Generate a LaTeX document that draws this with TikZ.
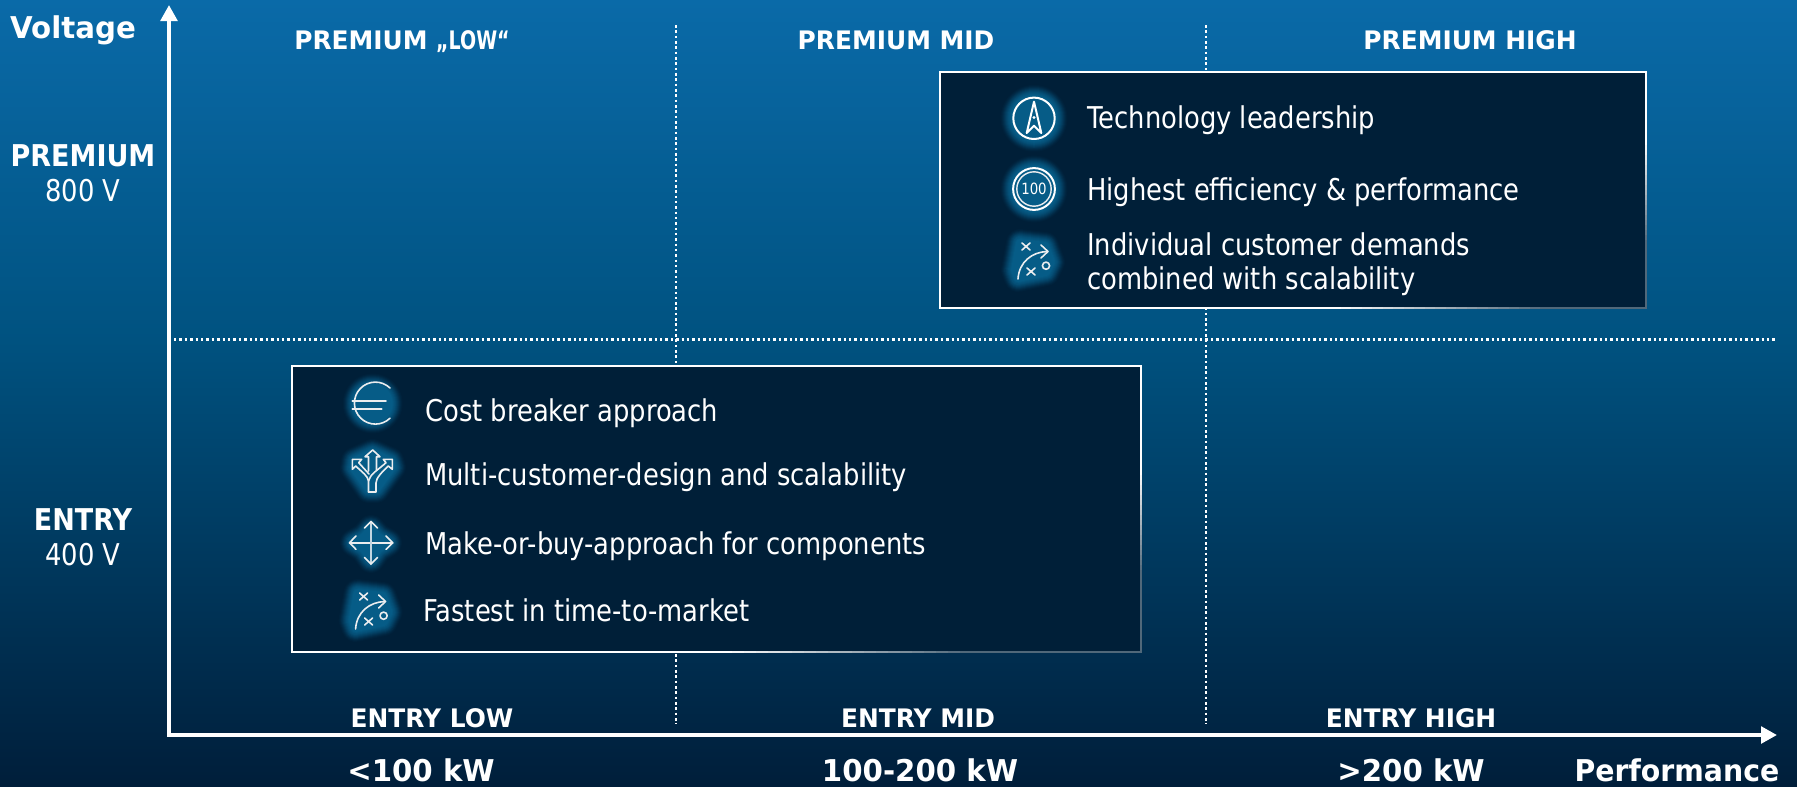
\documentclass[tikz,border=0pt]{standalone}
\usepackage{fontspec}
\setmainfont{DejaVu Sans}[FakeStretch=0.86]
\newfontfamily\bfa{DejaVu Sans Bold}[FakeStretch=0.975]
\newfontfamily\bfb{DejaVu Sans Bold}[FakeStretch=0.9]
\newfontfamily\bfc{DejaVu Sans Bold}[FakeStretch=0.945]
\newfontfamily\bfd{DejaVu Sans Bold}[FakeStretch=0.745]
\usetikzlibrary{arrows.meta}
\definecolor{bgtop}{RGB}{10,106,168}
\definecolor{bgmid}{RGB}{0,82,128}
\definecolor{bgbot}{RGB}{0,30,58}
\definecolor{boxc}{RGB}{0,31,56}
\definecolor{glowc}{RGB}{6,92,135}
\definecolor{edgegray}{RGB}{80,104,122}
\newcommand{\glowp}[1]{\foreach \w/\p in {28/5,26/12,24/22,22/33,20/45,18/57,16/68,14/78,12/86,10/93,8/100}{\path[draw=glowc!\p!boxc,fill=glowc!\p!boxc,line width=\w pt,line join=round,line cap=round] #1;}}
\newcommand{\tsz}[1]{\fontsize{#1}{#1}\selectfont}
% fading edge pieces: \hfade{x0}{x1}{y}  \vfade{x}{y0}{y1}
\newcommand{\hfade}[3]{\foreach \i in {0,5,...,95}{\pgfmathsetmacro{\pa}{#1+(#2-#1)*(\i/100)}\pgfmathsetmacro{\pb}{#1+(#2-#1)*((\i+5.5)/100)}\pgfmathtruncatemacro{\q}{100-\i}\fill[white!\q!edgegray] (\pa,#3-1) rectangle (\pb,#3+1);}}
\newcommand{\vfade}[3]{\foreach \i in {0,5,...,95}{\pgfmathsetmacro{\pa}{#2+(#3-#2)*(\i/100)}\pgfmathsetmacro{\pb}{#2+(#3-#2)*((\i+5.5)/100)}\pgfmathtruncatemacro{\q}{100-\i}\fill[white!\q!edgegray] (#1-1,\pa) rectangle (#1+1,\pb);}}
\tikzset{
 txt/.style={text=white,inner sep=0pt,anchor=base west,font=\tsz{30}},
 hdr/.style={text=white,inner sep=0pt,anchor=base,font=\tsz{25.5}\bfa},
 big/.style={text=white,inner sep=0pt,anchor=base,font=\tsz{30}\bfa},
 bign/.style={text=white,inner sep=0pt,anchor=base,font=\tsz{30}\bfb},
 reg/.style={text=white,inner sep=0pt,anchor=base,font=\tsz{30}},
 axisline/.style={draw=white,line width=4pt,-{Triangle[length=16pt,width=16.5pt]}},
 dotv/.style={draw=white,line width=2.4pt,dash pattern=on 2.6pt off 2.73pt},
 doth/.style={draw=white,line width=2.1pt,dash pattern=on 2.3pt off 3.1pt},
 icon/.style={draw=white,line width=2pt,line join=round,line cap=round},
 iconthin/.style={draw=white!92!boxc,line width=1.6pt,line join=round,line cap=round},
}
\newcommand{\playbook}[2]{%
 \begin{scope}[shift={(#1,#2)}]
  \glowp{(1020,243) -- (1045,246) -- (1051,262) -- (1046,272) -- (1018,278) -- (1015,270) -- cycle}
  \draw[iconthin] (1022,243) -- (1030,250) (1030,243) -- (1022,250);
  \draw[iconthin] (1027,268) -- (1035,275) (1035,268) -- (1027,275);
  \draw[iconthin] (1046,265.7) circle (3.6);
  \draw[iconthin] (1018,279) .. controls (1019,262) and (1032,252) .. (1047,251.5);
  \draw[iconthin] (1041,245) -- (1048,251.5) -- (1041,258);
 \end{scope}}
\begin{document}
\begin{tikzpicture}[x=1pt,y=-1pt]
\useasboundingbox (0,0) rectangle (1797,787);
\shade[top color=bgtop,bottom color=bgmid] (0,0) rectangle (1797,340.5);
\shade[top color=bgmid,bottom color=bgbot] (0,340) rectangle (1797,787);

% grid
\coordinate (v1t) at (676,25); \coordinate (v1b) at (676,724);
\coordinate (v2t) at (1206,25); \coordinate (v2b) at (1206,724);
\coordinate (hl) at (174,339.5); \coordinate (hr) at (1777,339.5);
\draw[dotv] (v1t) -- (v1b);
\draw[dotv] (v2t) -- (v2b);
\draw[doth] (hl) -- (hr);

% axes
\coordinate (o) at (169,735);
\coordinate (ytip) at (169,5);
\coordinate (xtip) at (1777,735);
\draw[axisline] (o) -- (ytip);
\draw[axisline] ([xshift=-2pt]o) -- (xtip);

% boxes
\fill[boxc] (940,72) rectangle (1646,308);
\fill[white] (939,71) rectangle (1646.5,73);
\fill[white] (939,71) rectangle (941,309);
\fill[white] (1644.5,71) rectangle (1646.5,140);
\vfade{1645.5}{140}{240}
\fill[edgegray] (1644.5,240) rectangle (1646.5,309);
\fill[white] (939,307) rectangle (1330,309);
\hfade{1330}{1540}{308}
\fill[edgegray] (1540,307) rectangle (1646.5,309);

\fill[boxc] (292,366) rectangle (1141,652);
\fill[white] (291,365) rectangle (1141.5,367);
\fill[white] (291,365) rectangle (293,653);
\fill[white] (1139.5,365) rectangle (1141.5,470);
\vfade{1140.5}{470}{570}
\fill[edgegray] (1139.5,570) rectangle (1141.5,653);
\fill[white] (291,651) rectangle (720,653);
\hfade{720}{960}{652}
\fill[edgegray] (960,651) rectangle (1141.5,653);

% icons upper box
\glowp{(1034,118.3) circle (19.5)}
\draw[icon] (1034,118.3) circle (20.7);
\draw[icon] (1034,101.7) -- (1026.7,133) -- (1034,125.7) -- (1041.3,133) -- cycle;
\fill[white] (1034,117.5) circle (1.7);

\glowp{(1034,189) circle (19.5)}
\draw[icon] (1034,189) circle (20.9);
\draw[iconthin,line width=1.4pt] (1034,189) circle (17.2);
\node[text=white,inner sep=0pt,font=\tsz{15.5}] (hundred) at (1034,189) {100};

\playbook{0}{0}

% icons lower box
\glowp{(372.7,403.5) circle (16)}
\draw[iconthin] (390,388) arc[start angle=-46,end angle=-314,radius=21];
\draw[iconthin] (352.3,400.7) -- (386,400.7);
\draw[iconthin] (352.3,409) -- (381.7,409);

\glowp{(355,461) -- (372.5,453) -- (390,461) -- (392,467) -- (376,489) -- (369,489) -- (354,468) -- cycle}
\draw[iconthin] (368.5,492) -- (368.5,481) .. controls (368,476) and (362,472) .. (355.7,466) -- (352.3,469.3) -- (352.3,459.3) -- (361.7,459.3) -- (358.7,462.7) -- (369,474);
\draw[iconthin] (368.5,492) -- (376,492) -- (376,483) .. controls (376,478) and (382,472) .. (388.3,466) -- (392.3,469.3) -- (392.3,459.3) -- (383.3,459.3) -- (386,462.7) .. controls (378,470) and (370,474) .. (368.5,481);
\draw[iconthin] (368.5,471) -- (368.5,456.7) -- (365,456.7) -- (372.7,450) -- (380,456.7) -- (376.5,456.7) -- (376.5,470);

\glowp{(354,542.7) -- (364,537) -- (371,529) -- (378,537) -- (388,542.7) -- (378,549) -- (371,559) -- (364,549) -- cycle}
\draw[iconthin] (349.5,542.7) -- (392.7,542.7);
\draw[iconthin,line width=2pt,draw=white!75!glowc] (371,521.5) -- (371,564);
\draw[iconthin] (356,536) -- (349.5,542.7) -- (356,549.4);
\draw[iconthin] (386,536) -- (392.7,542.7) -- (386,549.4);
\draw[iconthin] (364.5,528) -- (371,521.5) -- (377.5,528);
\draw[iconthin] (364.5,557.5) -- (371,564) -- (377.5,557.5);

\playbook{-662.4}{350}

% box texts
\node[txt] (t1) at (1087,128) {Technology leadership};
\node[txt] (t2) at (1087,200.5) {Highest efficiency \& performance};
\node[txt] (t3) at (1087,255) {Individual customer demands};
\node[txt] (t4) at (1087,289) {combined with scalability};
\node[txt] (c1) at (425,421.5) {Cost breaker approach};
\node[txt] (c2) at (425,485.5) {Multi-customer-design and scalability};
\node[txt] (c3) at (425,554) {Make-or-buy-approach for components};
\node[txt] (c4) at (423,621) {Fastest in time-to-market};

% axis labels
\node[big] (volt) at (73,38) {Voltage};
\node[bign] (prem) at (83,166) {PREMIUM};
\node[reg] (v800) at (83,201) {800 V};
\node[bign] (entr) at (83,530) {ENTRY};
\node[reg] (v400) at (83,565) {400 V};

% column headers
\node[hdr] (h1) at (402,49) {PREMIUM {\bfd „LOW“}};
\node[hdr] (h2) at (896,49) {PREMIUM MID};
\node[hdr] (h3) at (1470,49) {PREMIUM HIGH};
\node[hdr] (e1) at (432,727.5) {ENTRY LOW};
\node[hdr] (e2) at (918,727.5) {ENTRY MID};
\node[hdr] (e3) at (1411,727.5) {ENTRY HIGH};

% performance labels
\node[big] (p1) at (421,781.5) {<100 kW};
\node[big] (p2) at (920,781.5) {100-200 kW};
\node[big] (p3) at (1411,781.5) {>200 kW};
\node[big,font=\tsz{30}\bfc] (perf) at (1677,781.5) {Performance};
\end{tikzpicture}
\end{document}
